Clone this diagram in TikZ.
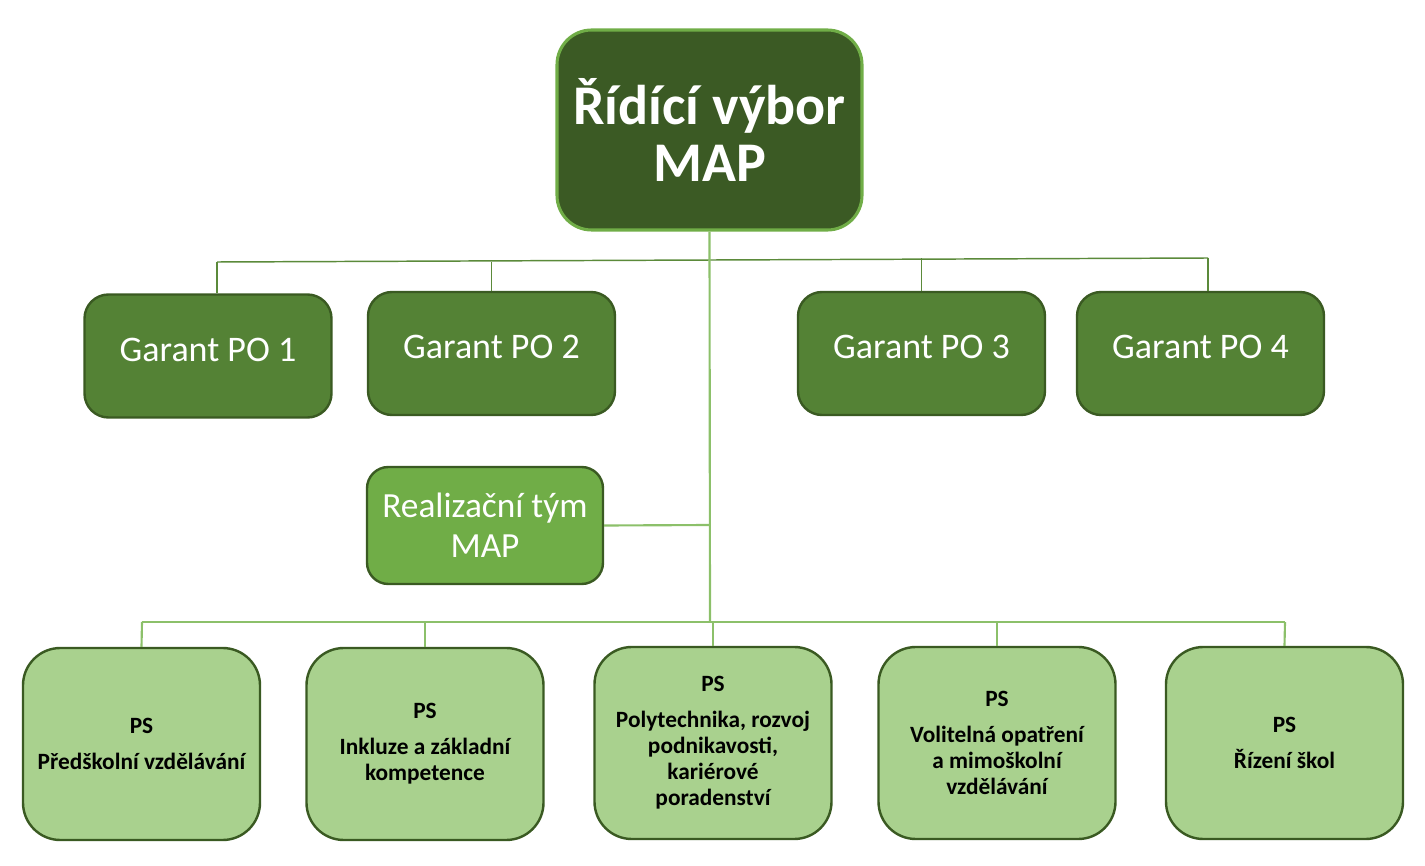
\documentclass[tikz,border=0pt]{standalone}
\usepackage{fontspec}
\setmainfont{Carlito}
\definecolor{topfill}{HTML}{3B5A24}
\definecolor{topedge}{HTML}{70AD47}
\definecolor{gfill}{HTML}{548235}
\definecolor{dedge}{HTML}{3A5A22}
\definecolor{rfill}{HTML}{70AD47}
\definecolor{psfill}{HTML}{A9D18E}
\definecolor{lineA}{HTML}{5B8A3A}
\definecolor{lineB}{HTML}{8CC06A}
\begin{document}
\begin{tikzpicture}[x=0.75pt,y=-0.75pt,
  topbox/.style={draw=topedge,fill=topfill,line width=2.3pt,rounded corners=26pt,
    minimum width=228.75pt,minimum height=150pt,inner sep=0pt,align=center,
    text=white,font=\fontsize{42}{43}\selectfont\bfseries},
  gbox/.style={draw=dedge,fill=gfill,line width=1.8pt,rounded corners=18pt,
    minimum width=185.25pt,minimum height=92.25pt,inner sep=0pt,align=center,
    text=white,font=\fontsize{27}{30}\selectfont},
  rbox/.style={draw=dedge,fill=rfill,line width=1.8pt,rounded corners=16pt,
    minimum width=177pt,minimum height=87.75pt,inner sep=0pt,align=center,
    text=white,font=\fontsize{26.5}{30}\selectfont},
  psbox/.style={draw=dedge,fill=psfill,line width=1.8pt,rounded corners=28pt,
    minimum width=177.75pt,minimum height=144pt,inner sep=0pt,align=center,
    text=black,font=\fontsize{17.5}{19.5}\selectfont\bfseries},
  connA/.style={draw=lineA,line width=1.1pt},
  connB/.style={draw=lineB,line width=1.6pt}]
\useasboundingbox (0,0) rectangle (1425,866);

\node[topbox] (top) at (709.5,130) {Řídící výbor\\MAP};

\node[gbox] (g1) at (208,356) {\raisebox{10pt}{Garant PO 1}};
\node[gbox] (g2) at (491.5,353.5) {\raisebox{10pt}{Garant PO 2}};
\node[gbox] (g3) at (921.5,353.5) {\raisebox{10pt}{Garant PO 3}};
\node[gbox] (g4) at (1200.5,353.5) {\raisebox{10pt}{Garant PO 4}};

\node[rbox] (real) at (485,525.5) {Realizační tým\\MAP};

\node[psbox] (ps1) at (141.5,744) {PS\\[7.5pt]Předškolní vzdělávání};
\node[psbox] (ps2) at (425,744) {PS\\[7.5pt]Inkluze a základní\\kompetence};
\node[psbox] (ps3) at (713,743) {PS\\[7.5pt]Polytechnika, rozvoj\\podnikavosti,\\kariérové\\poradenství};
\node[psbox] (ps4) at (997,743) {PS\\[7.5pt]Volitelná opatření\\a mimoškolní\\vzdělávání};
\node[psbox] (ps5) at (1284.5,743) {PS\\[7.5pt]Řízení škol};

\coordinate (uL) at (217,262);
\coordinate (uR) at (1208,258);
\coordinate (rj) at (710,525);
\coordinate (lM) at (710,622);
\coordinate (lL) at (142,622);
\coordinate (lR) at (1285,622);

\draw[connA] (uL) -- (uR);
\draw[connA] (uL) -- (uL |- g1.north);
\draw[connA] (g2.north) -- (g2.north |- uL);
\draw[connA] (g3.north) -- (g3.north |- uR);
\draw[connA] (uR) -- (uR |- g4.north);

\draw[connB] (top.south) -- (lM);
\draw[connB] (real.east) -- (rj);

\draw[connB] (lL) -- (lR);
\draw[connB] (lL) -- (ps1.north);
\draw[connB] (ps2.north |- lL) -- (ps2.north);
\draw[connB] (ps3.north |- lL) -- (ps3.north);
\draw[connB] (ps4.north |- lL) -- (ps4.north);
\draw[connB] (lR) -- (ps5.north);
\end{tikzpicture}
\end{document}
